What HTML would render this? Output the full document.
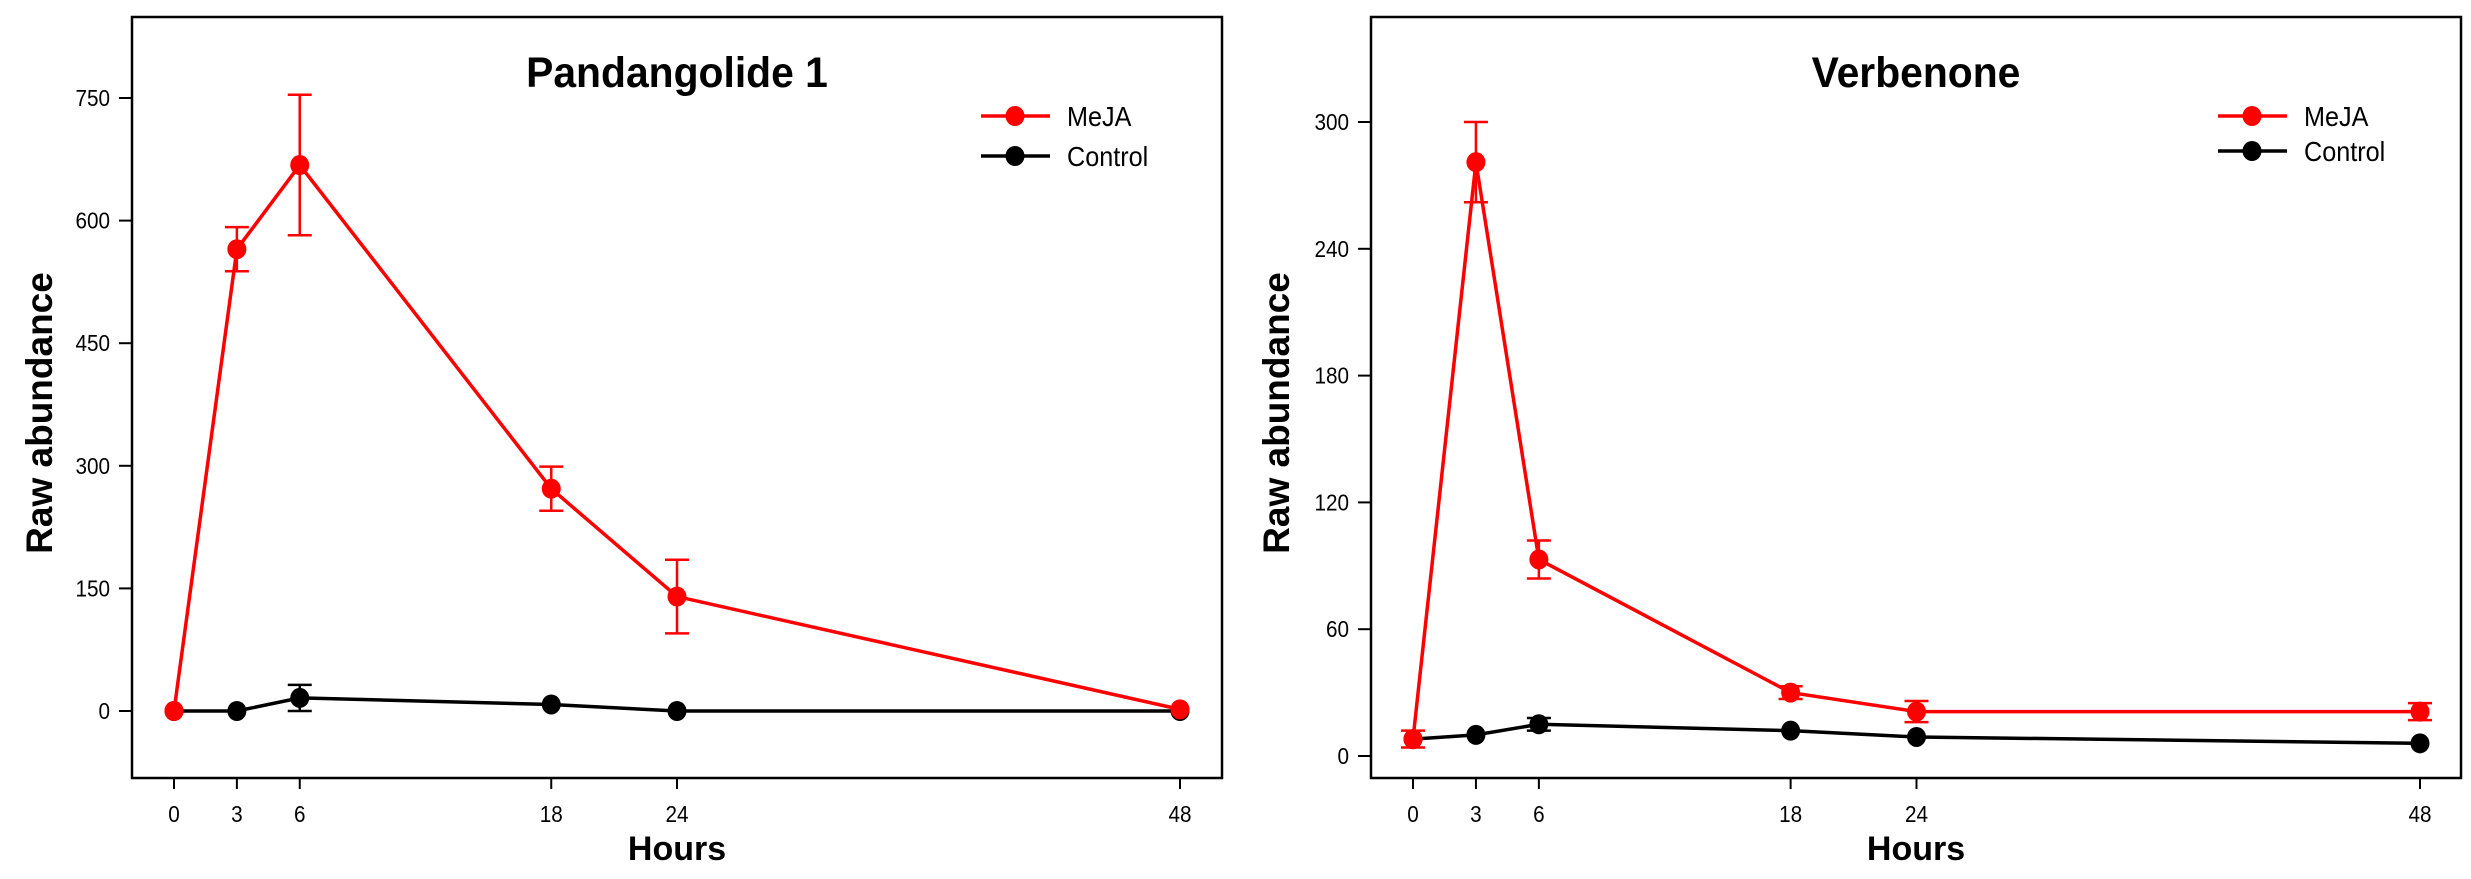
<!DOCTYPE html>
<html><head><meta charset="utf-8"><style>body{margin:0;background:#fff;overflow:hidden}svg{display:block}text{font-family:"Liberation Sans",sans-serif}</style></head>
<body>
<svg id="c" width="2471" height="879" xmlns="http://www.w3.org/2000/svg"></svg>
<script>
const hours = [0, 3, 6, 18, 24, 48];
const xTicks = [0, 3, 6, 18, 24, 48];
const p1Title = "Pandangolide 1";
const p1Meja = [0, 565, 668, 272, 140, 2];
const p1MejaErr = [0, 27, 86, 27, 45, 0];
const p1Control = [0, 0, 16, 8, 0, 0];
const p1ControlErr = [0, 0, 16, 0, 0, 0];
const p1YTicks = [0, 150, 300, 450, 600, 750];
const p2Title = "Verbenone";
const p2Meja = [8, 281, 93, 30, 21, 21];
const p2MejaErr = [4, 19, 9, 3, 5, 4];
const p2Control = [8, 10, 15, 12, 9, 6];
const p2ControlErr = [0, 0, 3, 0, 0, 0];
const p2YTicks = [0, 60, 120, 180, 240, 300];

const NS = "http://www.w3.org/2000/svg";
const svg = document.getElementById('c');
function mk(tag, attrs, parent) {
  const e = document.createElementNS(NS, tag);
  for (const k in attrs) e.setAttribute(k, attrs[k]);
  (parent || svg).appendChild(e);
  return e;
}
function txt(s, x, y, size, weight, anchor, sx, parent, rot) {
  const g = mk('g', {transform: `translate(${x},${y})` + (rot ? ` rotate(${rot})` : '') + ` scale(${sx},1)`}, parent);
  const t = mk('text', {x: 0, y: 0, 'font-size': size, 'font-weight': weight, 'text-anchor': anchor, fill: '#000'}, g);
  t.textContent = s;
  return t;
}
const TOP = 17, BOT = 778;
function panel(cfg) {
  const g = mk('g', {});
  
  
  const X = h => cfg.x0 + h / 48 * (cfg.x48 - cfg.x0);
  const Y = v => cfg.y0 - v / cfg.yMax * (cfg.y0 - cfg.yTop);
  const box = mk('rect', {x: cfg.bl, y: TOP, width: cfg.br - cfg.bl, height: BOT - TOP, fill: 'none', stroke: '#000', 'stroke-width': 2.5}, g);
  
  
  cfg.yTicks.forEach(v => {
    mk('line', {x1: cfg.bl - 13, x2: cfg.bl, y1: Y(v), y2: Y(v), stroke: '#000', 'stroke-width': 2}, g);
    const t = txt(String(v), cfg.bl - 22, Y(v) + 8, 23, 'normal', 'end', 0.9, g);
    
    
  });
  xTicks.forEach(h => {
    mk('line', {x1: X(h), x2: X(h), y1: BOT, y2: BOT + 11, stroke: '#000', 'stroke-width': 2}, g);
    const t = txt(String(h), X(h), 822, 23, 'normal', 'middle', 0.9, g);
    
    
  });
  let t = txt(cfg.title, (cfg.bl + cfg.br) / 2, 87, 43, 'bold', 'middle', 0.95, g);
  
  
  t = txt('Hours', (cfg.bl + cfg.br) / 2, 860, 34, 'bold', 'middle', 1, g);
  
  
  t = txt('Raw abundance', cfg.ytx, 413, 37, 'bold', 'middle', 1, g, -90);
  
  
  const series = [
    {vals: cfg.control, err: cfg.controlErr, col: '#000', name: 'control'},
    {vals: cfg.meja, err: cfg.mejaErr, col: '#f00', name: 'meja'}
  ];
  series.forEach(s => {
    const sg = mk('g', {}, g);
    
    
    const pts = hours.map((h, i) => X(h) + ',' + Y(s.vals[i])).join(' ');
    mk('polyline', {points: pts, fill: 'none', stroke: s.col, 'stroke-width': 3.5}, sg);
    hours.forEach((h, i) => {
      if (s.err[i] > 0) {
        const yt = Y(s.vals[i] + s.err[i]), yb = Y(s.vals[i] - s.err[i]), x = X(h);
        mk('path', {d: `M${x},${yt}V${yb}M${x - 12},${yt}H${x + 12}M${x - 12},${yb}H${x + 12}`, stroke: s.col, 'stroke-width': 2.5, fill: 'none'}, sg);
      }
      const m = mk('ellipse', {cx: X(h), cy: Y(s.vals[i]), rx: 9.5, ry: 10, fill: s.col}, sg);
      
      
    });
  });
  [['MeJA', '#f00', cfg.ly1], ['Control', '#000', cfg.ly2]].forEach(([lab, col, ly]) => {
    const lg = mk('g', {}, g);
    
    
    mk('line', {x1: cfg.lx, x2: cfg.lx + 69, y1: ly, y2: ly, stroke: col, 'stroke-width': 3.5}, lg);
    mk('ellipse', {cx: cfg.lx + 34, cy: ly, rx: 9.5, ry: 10, fill: col}, lg);
    txt(lab, cfg.lx + 86, ly + 10, 28, 'normal', 'start', 0.9, lg);
  });
}
panel({name: 'pandangolide-panel', title: p1Title, bl: 132, br: 1222, x0: 174, x48: 1180, y0: 711, yTop: 98, yMax: 750, ytx: 52,
  yTicks: p1YTicks, meja: p1Meja, mejaErr: p1MejaErr, control: p1Control, controlErr: p1ControlErr, lx: 981, ly1: 116, ly2: 156});
panel({name: 'verbenone-panel', title: p2Title, bl: 1371, br: 2461, x0: 1413, x48: 2420, y0: 756, yTop: 122, yMax: 300, ytx: 1289,
  yTicks: p2YTicks, meja: p2Meja, mejaErr: p2MejaErr, control: p2Control, controlErr: p2ControlErr, lx: 2218, ly1: 116, ly2: 151});
</script>
</body></html>
